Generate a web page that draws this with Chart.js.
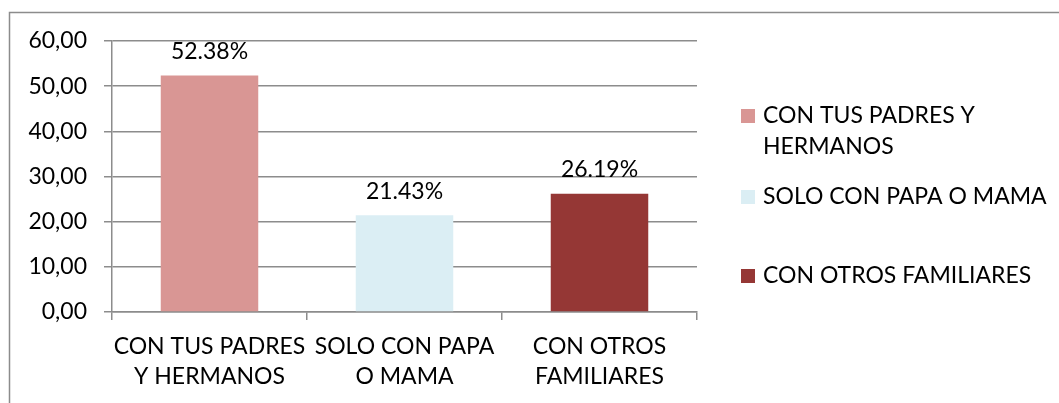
<!DOCTYPE html>
<html>
<head>
<meta charset="utf-8">
<script src="https://cdn.jsdelivr.net/npm/chart.js@4.4.1/dist/chart.umd.min.js"></script>
<style>
  html, body { margin: 0; padding: 0; background: #fff; }
  #wrap { width: 1059px; height: 403px; position: relative; }
</style>
</head>
<body>
<div id="wrap"><canvas id="grafico"></canvas></div>
<script>
/* ---------- datos ---------- */
const categorias = [
    ["CON TUS PADRES", "Y HERMANOS"],
    ["SOLO CON PAPA", "O MAMA"],
    ["CON OTROS", "FAMILIARES"]
];
const valores = [52.38, 21.43, 26.19];
const etiquetasLeyenda = [
    ["CON TUS PADRES Y", "HERMANOS"],
    ["SOLO CON PAPA O MAMA"],
    ["CON OTROS FAMILIARES"]
];
const colores = ["#D99694", "#DBEEF4", "#953735"];
const yMin = 0, yMax = 60, yPaso = 10;

const FUENTE = "Lato, Carlito, 'Liberation Sans', sans-serif";
const TAM = 23;
const GRIS = "#8c8c8c";

/* ---------- plugin: marco exterior ---------- */
const marco = {
    id: "marco",
    beforeDraw(chart) {
        const ctx = chart.ctx;
        ctx.save();
        ctx.strokeStyle = GRIS;
        ctx.lineWidth = 1.5;
        ctx.strokeRect(9.5, 12.5, 1200, 600);
        ctx.restore();
    }
};

/* ---------- plugin: etiquetas sobre las barras ---------- */
const etiquetasBarras = {
    id: "etiquetasBarras",
    afterDatasetsDraw(chart) {
        const ctx = chart.ctx;
        const meta = chart.getDatasetMeta(0);
        ctx.save();
        ctx.font = TAM + "px " + FUENTE;
        ctx.fillStyle = "#000";
        ctx.textAlign = "center";
        ctx.textBaseline = "middle";
        meta.data.forEach((bar, i) => {
            ctx.fillText(valores[i].toFixed(2) + "%", bar.x, bar.y - 24);
        });
        ctx.restore();
    }
};

/* ---------- plugin: leyenda a la derecha ---------- */
const leyenda = {
    id: "leyenda",
    afterDraw(chart) {
        const ctx = chart.ctx;
        const x0 = 741;
        const ys = [116, 197, 276]; // centro de cada cuadro
        ctx.save();
        ctx.font = TAM + "px " + FUENTE;
        ctx.textBaseline = "middle";
        ctx.textAlign = "left";
        etiquetasLeyenda.forEach((lineas, i) => {
            ctx.fillStyle = colores[i];
            ctx.fillRect(x0, ys[i] - 7, 14, 14);
            ctx.fillStyle = "#000";
            lineas.forEach((t, j) => ctx.fillText(t, x0 + 22, ys[i] + j * 31));
        });
        ctx.restore();
    }
};

new Chart(document.getElementById("grafico"), {
    type: "bar",
    data: {
        labels: categorias,
        datasets: [{
            data: valores,
            backgroundColor: colores,
            borderWidth: 0,
            categoryPercentage: 1,
            barPercentage: 0.5
        }]
    },
    options: {
        responsive: true,
        maintainAspectRatio: false,
        animation: false,
        layout: { padding: { left: 20, right: 362, top: 41, bottom: 0 } },
        plugins: {
            legend: { display: false },
            tooltip: { enabled: false }
        },
        scales: {
            x: {
                offset: true,
                grid: { drawOnChartArea: false, drawTicks: true, tickLength: 8, color: GRIS, lineWidth: 1.5 },
                border: { display: true, color: GRIS, width: 1.5 },
                ticks: {
                    color: "#000",
                    padding: 12,
                    maxRotation: 0,
                    autoSkip: false,
                    font: { family: FUENTE, size: TAM, lineHeight: 1.3 }
                },
                afterFit(s) { s.height = 91; }
            },
            y: {
                min: yMin,
                max: yMax,
                grid: { color: GRIS, lineWidth: 1.5, tickLength: 8 },
                border: { display: true, color: GRIS, width: 1.5 },
                ticks: {
                    stepSize: yPaso,
                    color: "#000",
                    padding: 17,
                    font: { family: FUENTE, size: TAM },
                    callback: v => v.toFixed(2).replace(".", ",")
                },
                afterFit(s) { s.width = 92; }
            }
        }
    },
    plugins: [marco, etiquetasBarras, leyenda]
});
</script>
</body>
</html>
